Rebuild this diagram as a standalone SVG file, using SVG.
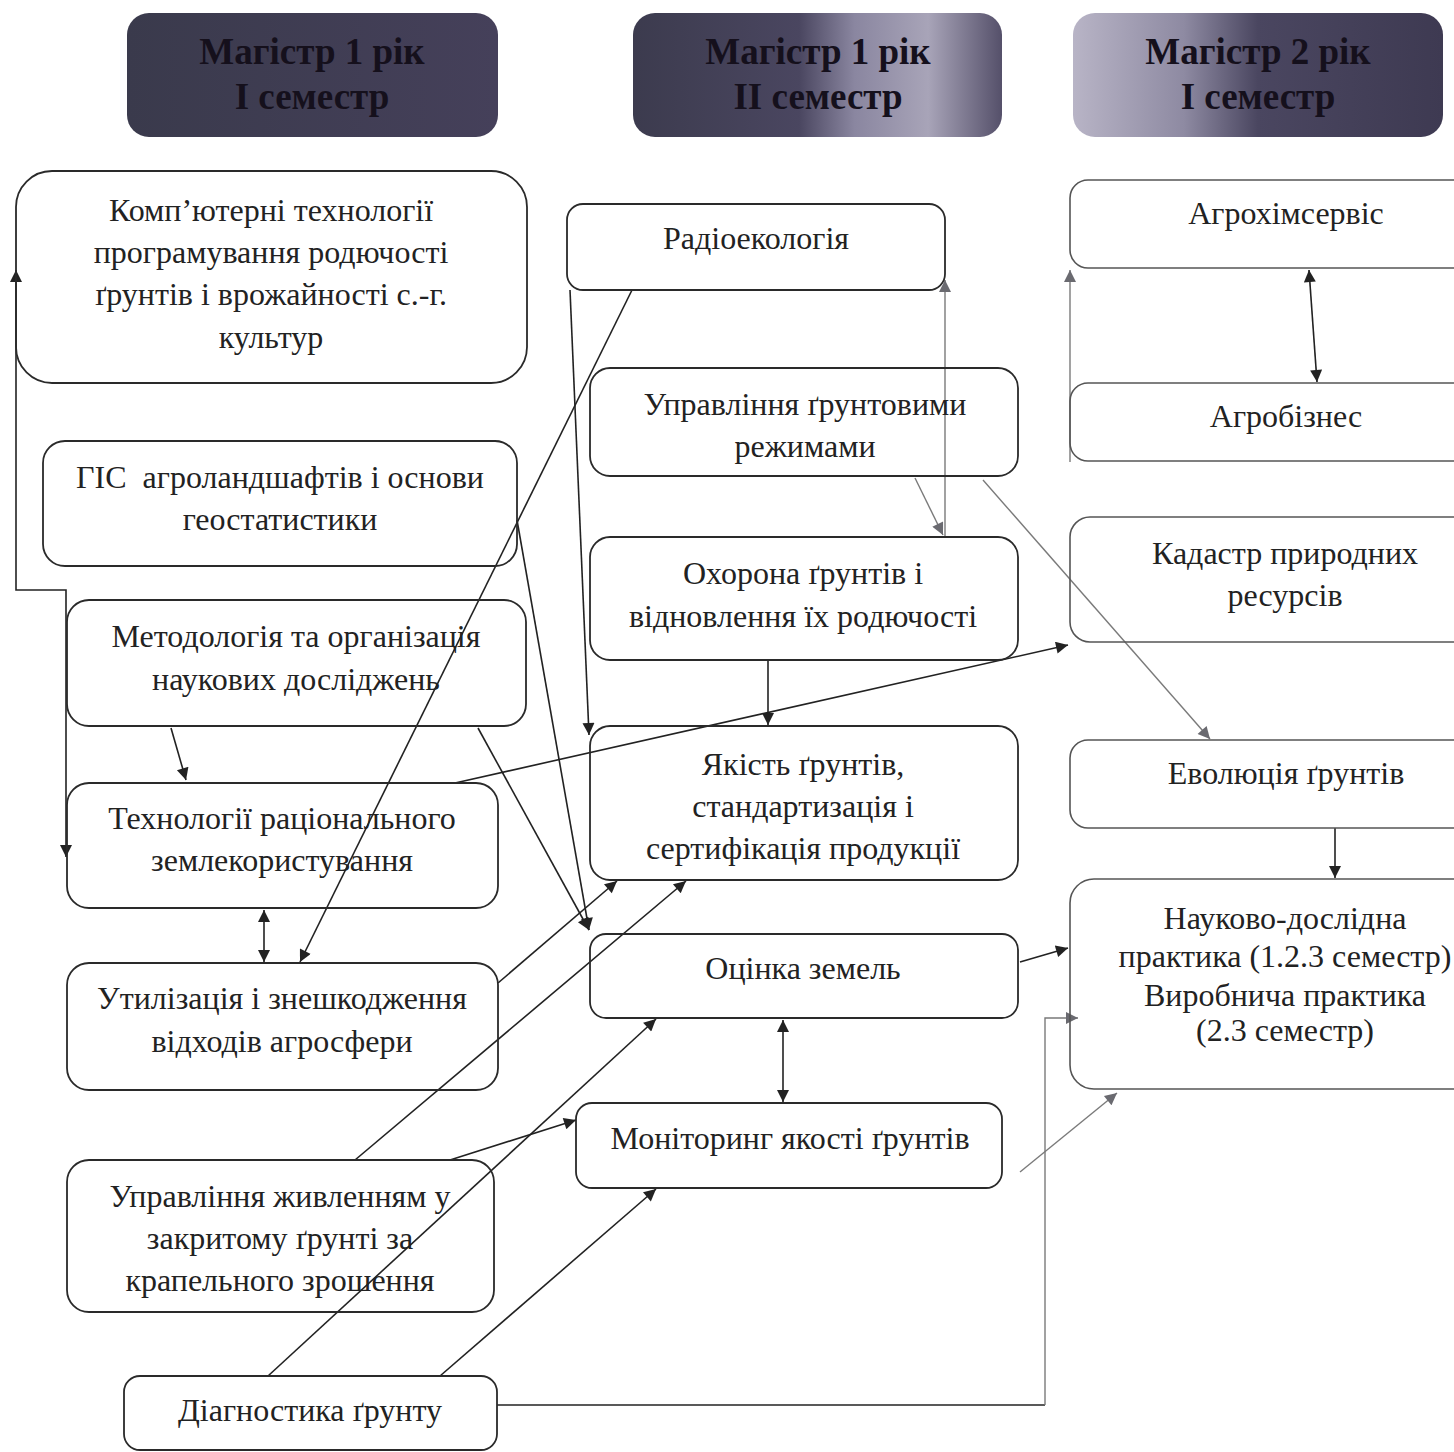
<svg xmlns="http://www.w3.org/2000/svg" width="1454" height="1452" viewBox="0 0 1454 1452">
<style>
.box{fill:#fff;stroke:#2a2a2a;stroke-width:1.8}
.rbox{fill:#fff;stroke:#555;stroke-width:1.6}
.t{font-family:"Liberation Serif","Times New Roman",serif;font-size:32px;fill:#222;text-anchor:middle}
.h{font-family:"Liberation Serif","Times New Roman",serif;font-size:37px;font-weight:bold;fill:#15101c;text-anchor:middle}
.c{fill:none;stroke:#222;stroke-width:1.6}
.f{fill:none;stroke:#7a7a7a;stroke-width:1.4}
</style>
<defs>
<marker id="ah" viewBox="0 0 10 10" refX="10" refY="5" markerWidth="16" markerHeight="12" markerUnits="userSpaceOnUse" orient="auto-start-reverse"><path d="M0,0 L10,5 L0,10 z" fill="#222"/></marker>
<marker id="ahf" viewBox="0 0 10 10" refX="10" refY="5" markerWidth="16" markerHeight="12" markerUnits="userSpaceOnUse" orient="auto-start-reverse"><path d="M0,0 L10,5 L0,10 z" fill="#6a6a70"/></marker>
<linearGradient id="g1" x1="0" x2="1" y1="0" y2="0"><stop offset="0" stop-color="#3a3a4c"/><stop offset="1" stop-color="#45405a"/></linearGradient>
<linearGradient id="g2" x1="0" x2="1" y1="0" y2="0"><stop offset="0" stop-color="#3c3b4e"/><stop offset="0.45" stop-color="#4a4660"/><stop offset="0.6" stop-color="#8a86a0"/><stop offset="0.8" stop-color="#a8a4b8"/><stop offset="1" stop-color="#55506a"/></linearGradient>
<linearGradient id="g3" x1="0" x2="1" y1="0" y2="0"><stop offset="0" stop-color="#b8b4c6"/><stop offset="0.3" stop-color="#8e8aa2"/><stop offset="0.5" stop-color="#4a4660"/><stop offset="1" stop-color="#3e3a52"/></linearGradient>
</defs>

<g id="header1"><rect x="127" y="13" width="371" height="124" rx="22" fill="url(#g1)"/><text class="h" x="312" y="64">Магістр 1 рік</text><text class="h" x="312" y="109">І семестр</text></g>
<g id="header2"><rect x="633" y="13" width="369" height="124" rx="22" fill="url(#g2)"/><text class="h" x="818" y="64">Магістр 1 рік</text><text class="h" x="818" y="109">ІІ семестр</text></g>
<g id="header3"><rect x="1073" y="13" width="370" height="124" rx="22" fill="url(#g3)"/><text class="h" x="1258" y="64">Магістр 2 рік</text><text class="h" x="1258" y="109">І семестр</text></g>

<g id="connectors">
<path class="c" d="M16,270 L16,590 L66,590 L66,857" marker-start="url(#ah)" marker-end="url(#ah)"/>
<path class="c" d="M171,728 L186,780" marker-end="url(#ah)"/>
<path class="c" d="M264,910 L264,962" marker-start="url(#ah)" marker-end="url(#ah)"/>
<path class="c" d="M632,290 L300,962" marker-end="url(#ah)"/>
<path class="c" d="M478,728 L589,930" marker-end="url(#ah)"/>
<path class="c" d="M517,520 L589,930" marker-end="url(#ah)"/>
<path class="c" d="M455,783 L1068,645" marker-end="url(#ah)"/>
<path class="c" d="M498,983 L617,881" marker-end="url(#ah)"/>
<path class="c" d="M355,1160 L686,881" marker-end="url(#ah)"/>
<path class="c" d="M450,1160 L576,1120" marker-end="url(#ah)"/>
<path class="c" d="M268,1376 L656,1019" marker-end="url(#ah)"/>
<path class="c" d="M440,1376 L656,1189" marker-end="url(#ah)"/>
<path class="c" d="M497,1405 L1045,1405"/>
<path class="f" d="M1045,1405 L1045,1018 L1078,1018" marker-end="url(#ahf)"/>
<path class="c" d="M1020,962 L1068,948" marker-end="url(#ah)"/>
<path class="f" d="M1020,1172 L1117,1093" marker-end="url(#ahf)"/>
<path class="c" d="M1335,828 L1335,878" marker-end="url(#ah)"/>
<path class="f" d="M983,480 L1210,739" marker-end="url(#ahf)"/>
<path class="f" d="M915,478 L943,535" marker-end="url(#ahf)"/>
<path class="f" d="M945,537 L945,280" marker-end="url(#ahf)"/>
<path class="f" d="M1070,462 L1070,270" marker-end="url(#ahf)"/>
<path class="c" d="M1309,270 L1317,382" marker-start="url(#ah)" marker-end="url(#ah)"/>
<path class="c" d="M783,1020 L783,1102" marker-start="url(#ah)" marker-end="url(#ah)"/>
<path class="c" d="M768,660 L768,725" marker-end="url(#ah)"/>
<path class="c" d="M570,290 L589,735" marker-end="url(#ah)"/>
</g>

<g id="n1"><rect class="box" x="16" y="171" width="511" height="212" rx="36" fill-opacity="0"/><text class="t" x="271" y="221">Комп’ютерні технології</text><text class="t" x="271" y="263">програмування родючості</text><text class="t" x="271" y="305">ґрунтів і врожайності с.-г.</text><text class="t" x="271" y="348">культур</text></g>
<g id="n2"><rect class="box" x="43" y="441" width="474" height="125" rx="22" fill-opacity="0"/><text class="t" x="280" y="488" xml:space="preserve">ГІС  агроландшафтів і основи</text><text class="t" x="280" y="530">геостатистики</text></g>
<g id="n3"><rect class="box" x="67" y="600" width="459" height="126" rx="22" fill-opacity="0"/><text class="t" x="296" y="647">Методологія та організація</text><text class="t" x="296" y="690">наукових досліджень</text></g>
<g id="n4"><rect class="box" x="67" y="783" width="431" height="125" rx="22" fill-opacity="0"/><text class="t" x="282" y="829">Технології раціонального</text><text class="t" x="282" y="871">землекористування</text></g>
<g id="n5"><rect class="box" x="67" y="963" width="431" height="127" rx="22" fill-opacity="0"/><text class="t" x="282" y="1009">Утилізація і знешкодження</text><text class="t" x="282" y="1052">відходів агросфери</text></g>
<g id="n6"><rect class="box" x="67" y="1160" width="427" height="152" rx="22" fill-opacity="0"/><text class="t" x="280" y="1207">Управління живленням у</text><text class="t" x="280" y="1249">закритому ґрунті за</text><text class="t" x="280" y="1291">крапельного зрошення</text></g>
<g id="n7"><rect class="box" x="124" y="1376" width="373" height="74" rx="16" fill-opacity="0"/><text class="t" x="310" y="1421">Діагностика ґрунту</text></g>

<g id="m1"><rect class="box" x="567" y="204" width="378" height="86" rx="16" fill-opacity="0"/><text class="t" x="756" y="249">Радіоекологія</text></g>
<g id="m2"><rect class="box" x="590" y="368" width="428" height="108" rx="20" fill-opacity="0"/><text class="t" x="805" y="415">Управління ґрунтовими</text><text class="t" x="805" y="457">режимами</text></g>
<g id="m3"><rect class="box" x="590" y="537" width="428" height="123" rx="20" fill-opacity="0"/><text class="t" x="803" y="584">Охорона ґрунтів і</text><text class="t" x="803" y="627">відновлення їх родючості</text></g>
<g id="m4"><rect class="box" x="590" y="726" width="428" height="154" rx="20" fill-opacity="0"/><text class="t" x="803" y="775">Якість ґрунтів,</text><text class="t" x="803" y="817">стандартизація і</text><text class="t" x="803" y="859">сертифікація продукції</text></g>
<g id="m5"><rect class="box" x="590" y="934" width="428" height="84" rx="16" fill-opacity="0"/><text class="t" x="803" y="979">Оцінка земель</text></g>
<g id="m6"><rect class="box" x="576" y="1103" width="426" height="85" rx="16" fill-opacity="0"/><text class="t" x="790" y="1149">Моніторинг якості ґрунтів</text></g>

<g id="r1"><rect class="rbox" x="1070" y="180" width="420" height="88" rx="18" fill-opacity="0"/><text class="t" x="1286" y="224">Агрохімсервіс</text></g>
<g id="r2"><rect class="rbox" x="1070" y="383" width="420" height="78" rx="18" fill-opacity="0"/><text class="t" x="1286" y="427">Агробізнес</text></g>
<g id="r3"><rect class="rbox" x="1070" y="517" width="420" height="125" rx="20" fill-opacity="0"/><text class="t" x="1285" y="564">Кадастр природних</text><text class="t" x="1285" y="606">ресурсів</text></g>
<g id="r4"><rect class="rbox" x="1070" y="740" width="420" height="88" rx="18" fill-opacity="0"/><text class="t" x="1286" y="784">Еволюція ґрунтів</text></g>
<g id="r5"><rect class="rbox" x="1070" y="879" width="420" height="210" rx="24" fill-opacity="0"/><text class="t" x="1285" y="929">Науково-дослідна</text><text class="t" x="1285" y="967">практика (1.2.3 семестр)</text><text class="t" x="1285" y="1006">Виробнича практика</text><text class="t" x="1285" y="1041">(2.3 семестр)</text></g>
</svg>
